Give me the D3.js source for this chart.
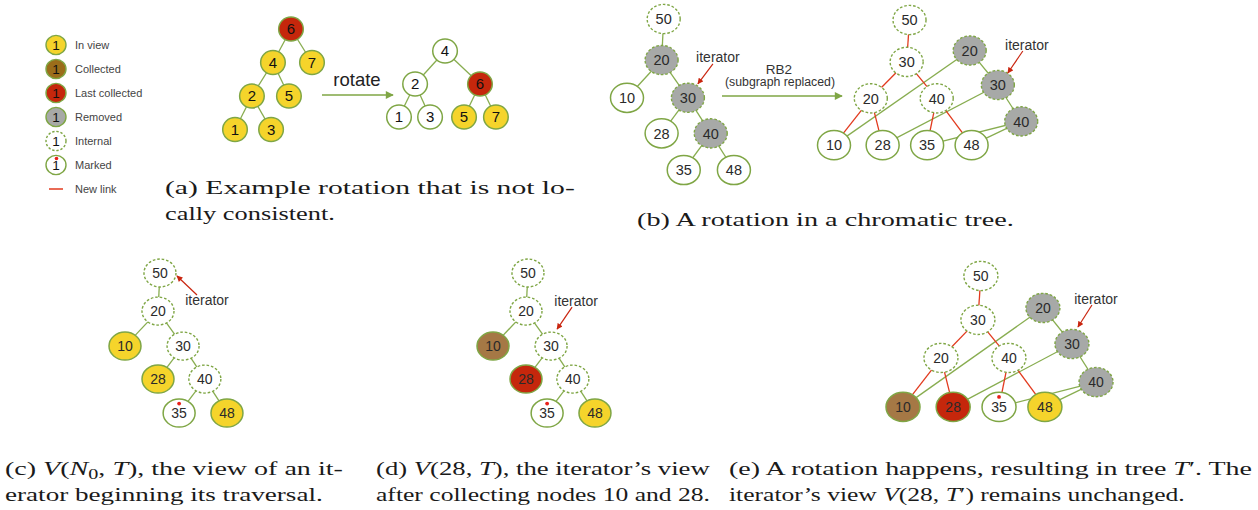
<!DOCTYPE html>
<html><head><meta charset="utf-8">
<script src="https://cdn.jsdelivr.net/npm/d3@7"></script>
<style>body{margin:0;background:#fff}</style>
</head><body>
<svg id="c" width="1258" height="510"></svg>
<script>
// ================= DATA =================
// Legend
const legendLabels = ["In view", "Collected", "Last collected", "Removed", "Internal", "Marked", "New link"];
const legendStates = ["view", "collectedLegend", "last", "removedSolid", "internal", "marked", "link"];

// Panel (a): tree before rotation
const treeA1Labels = ["6", "4", "7", "2", "5", "1", "3"];
const treeA1Cols   = [3.01, 2.04, 4.14, 0.91, 2.9, 0, 1.94];
const treeA1Rows   = [0, 1, 1, 2, 2, 3, 3];
const treeA1Edges  = [[0,1],[0,2],[1,3],[1,4],[3,5],[3,6]];
const treeA1States = ["last","view","view","view","view","view","view"];

// Panel (a): tree after rotation
const treeA2Labels = ["4", "2", "6", "1", "3", "5", "7"];
const treeA2Cols   = [2.86, 1, 5.03, 0, 1.93, 4.04, 6.02];
const treeA2Rows   = [0, 1, 1, 2, 2, 2, 2];
const treeA2Edges  = [[0,1],[0,2],[1,3],[1,4],[2,5],[2,6]];
const treeA2States = ["leaf","leaf","last","leaf","leaf","view","view"];

// Tree T (panels b-left, c, d)
const treeTLabels = ["50", "20", "10", "30", "28", "40", "35", "48"];
const treeTCols   = [1.06, 1.0, 0, 1.76, 1.0, 2.42, 1.64, 3.09];
const treeTRows   = [0, 1.12, 2.15, 2.15, 3.12, 3.12, 4.12, 4.12];
const treeTEdges  = [[0,1],[1,2],[1,3],[3,4],[3,5],[5,6],[5,7]];
const statesBLeft = ["internal","removed","leaf","removed","leaf","removed","leaf","leaf"];
const statesC     = ["internal","internal","view","internal","view","internal","marked","view"];
const statesD     = ["internal","internal","collected","internal","last","internal","marked","view"];

// Tree T' (panels b-right, e)
const treeT2Labels = ["50", "30", "20", "40", "10", "28", "35", "48", "20", "30", "40"];
const treeT2Cols   = [2.36, 2.27, 1.15, 3.21, 0, 1.52, 2.91, 4.3, 4.24, 5.12, 5.85];
const treeT2Rows   = [0, 1.29, 2.41, 2.41, 3.85, 3.85, 3.85, 3.85, 0.94, 2.0, 3.12];
const treeT2NewEdges = [[0,1],[1,2],[1,3],[2,4],[2,5],[3,6],[3,7]];
const treeT2OldEdges = [[8,4],[8,9],[9,5],[9,10],[10,6],[10,7]];
const statesBRight = ["internal","internal","internal","internal","leaf","leaf","leaf","leaf","removed","removed","removed"];
const statesE      = ["internal","internal","internal","internal","collected","last","marked","view","removed","removed","removed"];

// Texts
const arrowTextA = "rotate";
const arrowTextB1 = "RB2";
const arrowTextB2 = "(subgraph replaced)";
const iteratorText = "iterator";
// caption pieces: [text, style]  style: "" roman, "i" italic, "sub" subscript
const captionA1 = [["(a) Example rotation that is not lo-",""]];
const captionA2 = [["cally consistent.",""]];
const captionB  = [["(b) A rotation in a chromatic tree.",""]];
const captionC1 = [["(c) ",""],["V","i"],["(",""],["N","i"],["0","sub"],[", ",""],["T","i"],["), the view of an it-",""]];
const captionC2 = [["erator beginning its traversal.",""]];
const captionD1 = [["(d) ",""],["V","i"],["(28, ",""],["T","i"],["), the iterator\u2019s view",""]];
const captionD2 = [["after collecting nodes 10 and 28.",""]];
const captionE1 = [["(e) A rotation happens, resulting in tree ",""],["T","i"],["\u2032. The",""]];
const captionE2 = [["iterator\u2019s view ",""],["V","i"],["(28, ",""],["T","i"],["\u2032) remains unchanged.",""]];

// ================= STYLES / LAYOUT =================
const GREEN = "#7fa645", EDGE_GREEN = "#88ad50", NEW_RED = "#e23a1e", ARROW_RED = "#c9250f";
const FILL = {
  view: "#f5d42b", collected: "#a57845", collectedLegend: "#9b6d1a", last: "#c5270c",
  removed: "#a7a9a7", removedSolid: "#a7a9a7", internal: "#ffffff", leaf: "#ffffff", marked: "#ffffff"
};
const DASHED = {internal: true, removed: true};

const svg = d3.select("#c");
const defs = svg.append("defs");
function marker(id, color, w, h) {
  defs.append("marker").attr("id", id).attr("viewBox", "0 0 10 10")
    .attr("refX", 9).attr("refY", 5).attr("markerWidth", w).attr("markerHeight", h)
    .attr("markerUnits", "userSpaceOnUse").attr("orient", "auto")
    .append("path").attr("d", "M0,0L10,5L0,10Z").attr("fill", color);
}
marker("gArrow", GREEN, 9, 8);
marker("rArrow", ARROW_RED, 7, 6);

const SANS = "'Liberation Sans', Arial, Helvetica, sans-serif";
const SERIF = "'Liberation Serif', 'Times New Roman', serif";

function drawTree(cfg) {
  const x = d3.scaleLinear().domain([0, 1]).range([cfg.x0, cfg.x0 + cfg.ux]);
  const y = d3.scaleLinear().domain([0, 1]).range([cfg.y0, cfg.y0 + cfg.uy]);
  const nodes = cfg.labels.map((l, i) => ({label: l, x: x(cfg.cols[i]), y: y(cfg.rows[i]), state: cfg.states[i]}));
  const g = svg.append("g");
  cfg.edgeSets.forEach(es => {
    g.selectAll(null).data(es.edges).enter().append("line")
      .attr("x1", d => nodes[d[0]].x).attr("y1", d => nodes[d[0]].y)
      .attr("x2", d => nodes[d[1]].x).attr("y2", d => nodes[d[1]].y)
      .attr("stroke", es.color).attr("stroke-width", 1.3);
  });
  const ng = g.selectAll(null).data(nodes).enter().append("g");
  ng.append("ellipse").attr("cx", d => d.x).attr("cy", d => d.y)
    .attr("rx", cfg.rx).attr("ry", cfg.ry)
    .attr("fill", d => FILL[d.state])
    .attr("stroke", GREEN).attr("stroke-width", d => DASHED[d.state] ? 1.4 : 1.5)
    .attr("stroke-dasharray", d => DASHED[d.state] ? "2.6,1.9" : null);
  ng.filter(d => d.state === "marked").append("circle")
    .attr("cx", d => d.x).attr("cy", d => d.y - cfg.ry * 0.68).attr("r", 1.9).attr("fill", "#e8201a");
  ng.append("text").attr("x", d => d.x).attr("y", d => d.y).attr("dy", "0.36em")
    .attr("text-anchor", "middle").attr("font-family", SANS).attr("font-size", cfg.font)
    .attr("fill", cfg.textColor || "#2a2a2a").text(d => d.label);
  return nodes;
}

// ---- legend ----
const legY = d3.scalePoint().domain(legendLabels).range([45, 189]);
const legG = svg.append("g");
legendLabels.forEach((lab, i) => {
  const st = legendStates[i];
  const cy = legY(lab);
  if (st === "link") {
    legG.append("line").attr("x1", 49).attr("x2", 63).attr("y1", cy).attr("y2", cy)
      .attr("stroke", NEW_RED).attr("stroke-width", 1.5);
  } else {
    legG.append("ellipse").attr("cx", 56).attr("cy", cy).attr("rx", 10).attr("ry", 9.6)
      .attr("fill", FILL[st]).attr("stroke", GREEN).attr("stroke-width", 1.4)
      .attr("stroke-dasharray", DASHED[st] ? "2.4,1.8" : null);
    if (st === "marked") legG.append("circle").attr("cx", 56.5).attr("cy", cy - 6.5).attr("r", 1.8).attr("fill", "#e8201a");
    legG.append("text").attr("x", 56).attr("y", cy).attr("dy", "0.36em").attr("text-anchor", "middle")
      .attr("font-family", SANS).attr("font-size", 13.5).attr("fill", "#111").text("1");
  }
  legG.append("text").attr("x", 75).attr("y", cy).attr("dy", "0.36em")
    .attr("font-family", SANS).attr("font-size", 11).attr("fill", "#444").text(lab);
});

// ---- panel (a) ----
drawTree({labels: treeA1Labels, cols: treeA1Cols, rows: treeA1Rows, states: treeA1States,
  edgeSets: [{edges: treeA1Edges, color: EDGE_GREEN}],
  x0: 235, ux: 18.6, y0: 29, uy: 33.5, rx: 12.3, ry: 12, font: 15, textColor: "#111"});
drawTree({labels: treeA2Labels, cols: treeA2Cols, rows: treeA2Rows, states: treeA2States,
  edgeSets: [{edges: treeA2Edges, color: EDGE_GREEN}],
  x0: 399, ux: 16.1, y0: 51, uy: 33, rx: 12.3, ry: 12, font: 15, textColor: "#111"});

function bigArrow(x1, x2, yy) {
  svg.append("line").attr("x1", x1).attr("x2", x2).attr("y1", yy).attr("y2", yy)
    .attr("stroke", GREEN).attr("stroke-width", 1.5).attr("marker-end", "url(#gArrow)");
}
bigArrow(322, 393, 95);
svg.append("text").attr("x", 357).attr("y", 86).attr("text-anchor", "middle")
  .attr("font-family", SANS).attr("font-size", 18.5).attr("fill", "#222").text(arrowTextA);

// ---- panel (b) ----
const bL = drawTree({labels: treeTLabels, cols: treeTCols, rows: treeTRows, states: statesBLeft,
  edgeSets: [{edges: treeTEdges, color: EDGE_GREEN}],
  x0: 627, ux: 34.6, y0: 19, uy: 36.65, rx: 16.5, ry: 14.6, font: 14.5});
const bR = drawTree({labels: treeT2Labels, cols: treeT2Cols, rows: treeT2Rows, states: statesBRight,
  edgeSets: [{edges: treeT2OldEdges, color: EDGE_GREEN}, {edges: treeT2NewEdges, color: NEW_RED}],
  x0: 834, ux: 32, y0: 20, uy: 32.5, rx: 16.5, ry: 14.6, font: 14.5});
bigArrow(722, 842, 96);
svg.append("text").attr("x", 779).attr("y", 74).attr("text-anchor", "middle")
  .attr("font-family", SANS).attr("font-size", 13.5).attr("fill", "#333").text(arrowTextB1);
svg.append("text").attr("x", 780).attr("y", 86).attr("text-anchor", "middle")
  .attr("font-family", SANS).attr("font-size", 12.3).attr("fill", "#333").text(arrowTextB2);

// ---- panels (c), (d), (e) ----
const cN = drawTree({labels: treeTLabels, cols: treeTCols, rows: treeTRows, states: statesC,
  edgeSets: [{edges: treeTEdges, color: EDGE_GREEN}],
  x0: 125, ux: 33, y0: 273, uy: 34, rx: 16, ry: 14, font: 14});
const dN = drawTree({labels: treeTLabels, cols: treeTCols, rows: treeTRows, states: statesD,
  edgeSets: [{edges: treeTEdges, color: EDGE_GREEN}],
  x0: 493, ux: 33, y0: 273, uy: 34, rx: 16, ry: 14, font: 14});
const eN = drawTree({labels: treeT2Labels, cols: treeT2Cols, rows: treeT2Rows, states: statesE,
  edgeSets: [{edges: treeT2OldEdges, color: EDGE_GREEN}, {edges: treeT2NewEdges, color: NEW_RED}],
  x0: 903, ux: 33, y0: 276, uy: 34, rx: 17, ry: 14.6, font: 14});

// ---- iterator annotations ----
function iterator(node, endOff, vec, textOff) {
  const ex = node.x + endOff[0], ey = node.y + endOff[1];
  const sx = ex + vec[0], sy = ey + vec[1];
  svg.append("line").attr("x1", sx).attr("y1", sy).attr("x2", ex).attr("y2", ey)
    .attr("stroke", ARROW_RED).attr("stroke-width", 1.2).attr("marker-end", "url(#rArrow)");
  svg.append("text").attr("x", sx + textOff[0]).attr("y", sy + textOff[1]).attr("text-anchor", "middle")
    .attr("font-family", SANS).attr("font-size", 14).attr("fill", "#333").text(iteratorText);
}
iterator(bL[3], [10, -14], [15, -20], [5, -1.5]);
iterator(bR[9], [10, -12], [15, -22], [4, -1.5]);
iterator(cN[0], [17, 3], [20, 19], [10, 10]);
iterator(dN[3], [6, -17], [15, -22], [4, -1.5]);
iterator(eN[9], [6, -17], [14, -22], [4, -1.5]);

// ---- captions ----
const CAP_FONT = 19.5;
function makeCaption(pieces, x, y) {
  const t = svg.append("text").attr("font-family", SERIF).attr("font-size", CAP_FONT).attr("fill", "#1a1a1a")
    .attr("transform", `translate(${x},${y})`).style("white-space", "pre");
  let sub = false;
  pieces.forEach(p => {
    const ts = t.append("tspan").text(p[0]);
    if (p[1] === "i") ts.attr("font-style", "italic");
    if (p[1] === "sub") { ts.attr("font-size", 14).attr("dy", 4); sub = true; }
    else if (sub) { ts.attr("dy", -4); sub = false; }
  });
  return t;
}
// line stretched horizontally to a given width
function line(pieces, x, y, width) {
  const t = makeCaption(pieces, x, y);
  const sx = width / t.node().getComputedTextLength();
  t.attr("transform", `translate(${x},${y}) scale(${sx},1)`);
}
line(captionA1, 165, 194, 410);
line(captionA2, 165, 220, 170);
line(captionB, 637, 226, 377);
line(captionC1, 5, 475, 338);
line(captionC2, 5, 501, 318);
line(captionD1, 376, 475, 334);
line(captionD2, 376, 501, 334);
line(captionE1, 729, 475, 523);
line(captionE2, 729, 501, 456);
</script>
</body></html>
